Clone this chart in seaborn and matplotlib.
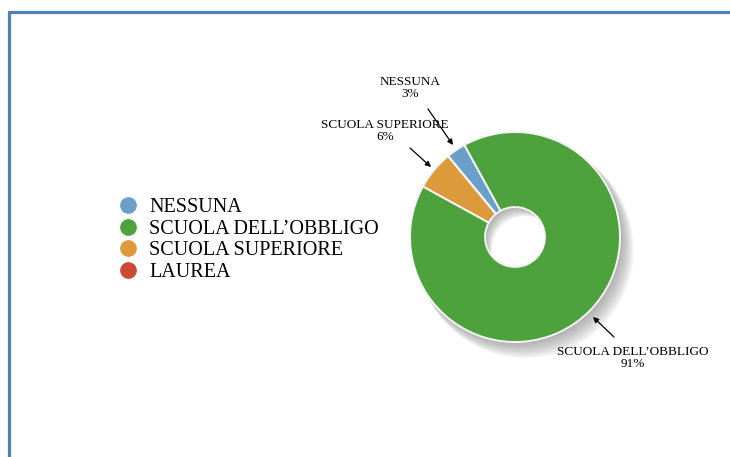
import numpy as np
import matplotlib
matplotlib.use('Agg')
import matplotlib.pyplot as plt
from matplotlib.lines import Line2D
from matplotlib.patches import Rectangle
import seaborn as sns

# dati: titolo di studio
categorie = ['NESSUNA', "SCUOLA DELL\u2019OBBLIGO", 'SCUOLA SUPERIORE', 'LAUREA']
percentuali = [3, 91, 6, 0]
colori = ['#6b9fc9', '#4da23d', '#dc9a3a', '#cc4a33']

sns.set_theme(style='white')
plt.rcParams['font.family'] = ['Liberation Serif', 'DejaVu Serif']

W, H = 730, 457
fig = plt.figure(figsize=(W / 100, H / 100), dpi=100)
fig.patch.set_facecolor('white')

# cornice blu
fig.patches.append(Rectangle((9 / W, -0.1), 1.2, (H - 12) / H + 0.1, transform=fig.transFigure,
                             fill=False, edgecolor='#4f81bd', linewidth=2.3, zorder=0))

# asse del grafico ad anello: centro (515, 237) px, raggio 105 px
R = 105
lato = 400
ax = fig.add_axes([(515 - lato / 2) / W, (H - 237 - lato / 2) / H, lato / W, lato / H])
lim = lato / 2 / R

start = 129.6
larghezza = 0.715

# ombra sfumata
for i in range(9):
    off = 0.012 * (i + 1)
    ax.pie(percentuali, radius=1.0 + 0.004 * i, startangle=start, counterclock=False,
           colors=['#707070'] * len(percentuali), center=(off * 0.9, -off * 1.1),
           wedgeprops=dict(width=larghezza, linewidth=0, alpha=0.08), frame=True)

wedges, _ = ax.pie(percentuali, radius=1.0, startangle=start, counterclock=False,
                   colors=colori, wedgeprops=dict(width=larghezza, edgecolor='#f4f4f4', linewidth=1.4),
                   frame=True)
ax.set_xlim(-lim, lim)
ax.set_ylim(-lim, lim)
ax.set_aspect('equal')
ax.axis('off')

# etichette con frecce (pixel -> dati)
def px(x, y):
    return ((x - 515) / R, (237 - y) / R)

etichette = [
    (0, px(410, 88), px(428, 109), px(453, 145)),
    (2, px(385, 131), px(410, 148), px(431, 167)),
    (1, px(633, 358), px(614, 337), px(593, 317)),
]
for idx, pos_testo, coda, testa in etichette:
    ax.text(pos_testo[0], pos_testo[1], f'{categorie[idx]}\n{percentuali[idx]}%',
            ha='center', va='center', fontsize=9.5, color='black', linespacing=0.95)
    ax.annotate('', xy=testa, xytext=coda, annotation_clip=False,
                arrowprops=dict(arrowstyle='-|>', color='black', lw=0.9,
                                mutation_scale=8, shrinkA=0, shrinkB=0))

# legenda
maniglie = [Line2D([0], [0], marker='o', linestyle='none', markersize=11,
                   markerfacecolor=c, markeredgecolor=c) for c in colori]
leg = fig.legend(maniglie, categorie, loc='center left', bbox_to_anchor=(108 / W, (H - 240) / H),
                 frameon=False, fontsize=14.5, handletextpad=0.55, labelspacing=0.12,
                 borderpad=0, handlelength=1.0)
for t in leg.get_texts():
    t.set_color('black')

fig.savefig('out.png', dpi=100)
